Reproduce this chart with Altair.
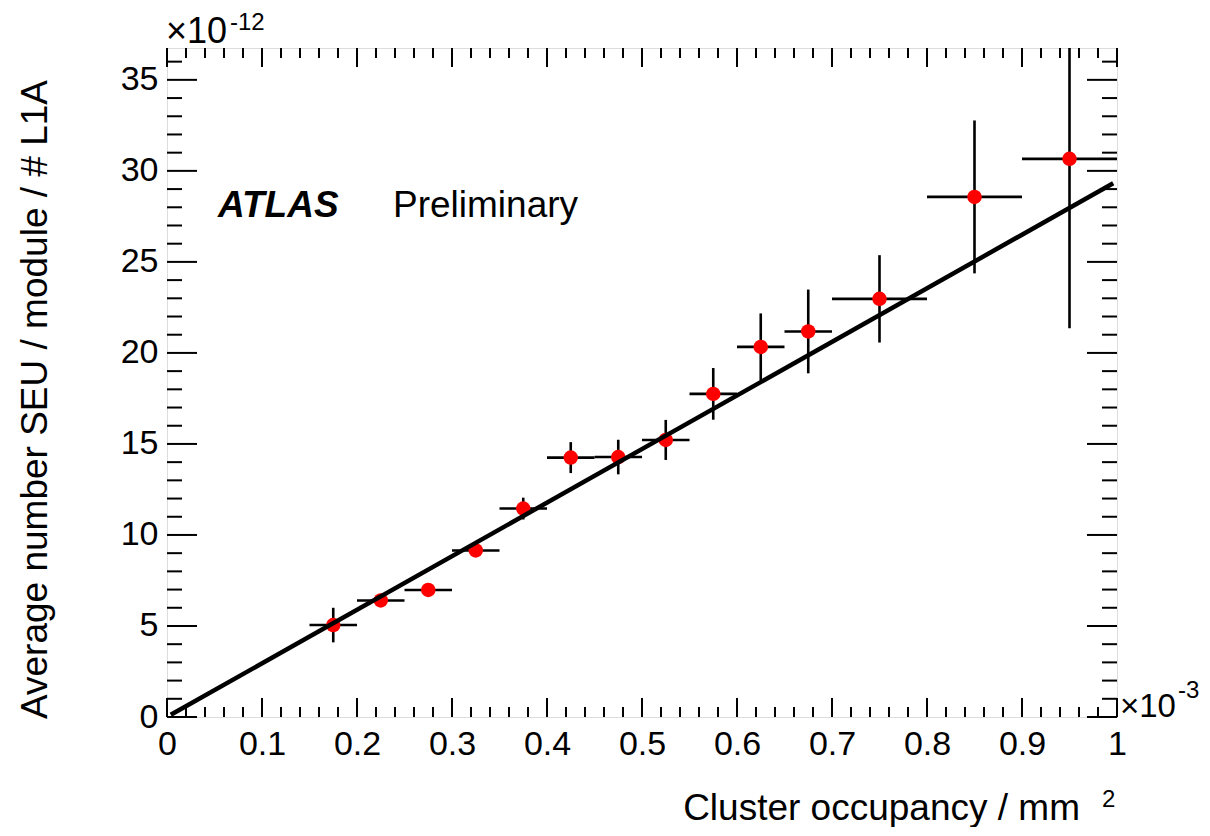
import altair as alt
import pandas as pd

# ---- data ----
x_center = [0.175, 0.225, 0.275, 0.325, 0.375, 0.425, 0.475, 0.525, 0.575, 0.625, 0.675, 0.75, 0.85, 0.95]
x_half = [0.025, 0.025, 0.025, 0.025, 0.025, 0.025, 0.025, 0.025, 0.025, 0.025, 0.025, 0.05, 0.05, 0.05]
y_val = [5.05, 6.40, 6.98, 9.15, 11.45, 14.25, 14.28, 15.22, 17.75, 20.33, 21.18, 22.97, 28.57, 30.66]
y_err = [0.95, 0.30, 0.25, 0.35, 0.60, 0.85, 0.95, 1.10, 1.42, 1.84, 2.30, 2.40, 4.20, 9.30]

fit_x = [0.004, 0.996]
fit_y = [0.12, 29.32]

x_major = [0, 0.1, 0.2, 0.3, 0.4, 0.5, 0.6, 0.7, 0.8, 0.9, 1.0]
x_minor = [0.02, 0.04, 0.06, 0.08, 0.12, 0.14, 0.16, 0.18, 0.22, 0.24, 0.26, 0.28,
           0.32, 0.34, 0.36, 0.38, 0.42, 0.44, 0.46, 0.48, 0.52, 0.54, 0.56, 0.58,
           0.62, 0.64, 0.66, 0.68, 0.72, 0.74, 0.76, 0.78, 0.82, 0.84, 0.86, 0.88,
           0.92, 0.94, 0.96, 0.98]
y_major = [0, 5, 10, 15, 20, 25, 30, 35]
y_minor = [1, 2, 3, 4, 6, 7, 8, 9, 11, 12, 13, 14, 16, 17, 18, 19, 21, 22, 23, 24,
           26, 27, 28, 29, 31, 32, 33, 34, 36]

X_MAX = 1.0
Y_MAX = 36.75

W, H = 950, 669
FONT = "Liberation Sans"

df = pd.DataFrame({
    "x": x_center,
    "y": y_val,
    "xlo": [c - h for c, h in zip(x_center, x_half)],
    "xhi": [c + h for c, h in zip(x_center, x_half)],
    "ylo": [v - e for v, e in zip(y_val, y_err)],
    "yhi": [v + e for v, e in zip(y_val, y_err)],
})
fit_df = pd.DataFrame({"x": fit_x, "y": fit_y})
xmaj_df = pd.DataFrame({"x": x_major})
xmin_df = pd.DataFrame({"x": x_minor})
ymaj_df = pd.DataFrame({"y": y_major})
ymin_df = pd.DataFrame({"y": y_minor})

xscale = alt.Scale(domain=[0, X_MAX], nice=False, zero=False)
yscale = alt.Scale(domain=[0, Y_MAX], nice=False, zero=False)

x_axis = alt.Axis(values=x_major, format="~g", ticks=False, domain=False, grid=False,
                  labelFont=FONT, labelFontSize=34, labelColor="black", labelPadding=10,
                  title=None, labelFlush=False, labelOverlap=False)
y_axis = alt.Axis(values=y_major, format="d", ticks=False, domain=False, grid=False,
                  labelFont=FONT, labelFontSize=34, labelColor="black", labelPadding=9,
                  title=None, labelOverlap=False)

base = alt.Chart(df)

hbars = base.mark_rule(color="black", strokeWidth=2.6, clip=True).encode(
    x=alt.X("xlo:Q", scale=xscale, axis=x_axis),
    x2="xhi:Q",
    y=alt.Y("y:Q", scale=yscale, axis=y_axis),
)
vbars = base.mark_rule(color="black", strokeWidth=2.6, clip=True).encode(
    x=alt.X("x:Q", scale=xscale),
    y=alt.Y("ylo:Q", scale=yscale),
    y2="yhi:Q",
)
points = base.mark_circle(color="#ff0000", size=210, opacity=1).encode(
    x=alt.X("x:Q", scale=xscale),
    y=alt.Y("y:Q", scale=yscale),
)
fit = alt.Chart(fit_df).mark_line(color="black", strokeWidth=4.5).encode(
    x=alt.X("x:Q", scale=xscale),
    y=alt.Y("y:Q", scale=yscale),
)

tick_col = "black"
tw = 2
xmaj_b = alt.Chart(xmaj_df).mark_rule(color=tick_col, strokeWidth=tw).encode(
    x=alt.X("x:Q", scale=xscale), y=alt.value(H), y2=alt.value(H - 19))
xmaj_t = alt.Chart(xmaj_df).mark_rule(color=tick_col, strokeWidth=tw).encode(
    x=alt.X("x:Q", scale=xscale), y=alt.value(0), y2=alt.value(19))
xmin_b = alt.Chart(xmin_df).mark_rule(color=tick_col, strokeWidth=tw).encode(
    x=alt.X("x:Q", scale=xscale), y=alt.value(H), y2=alt.value(H - 10))
xmin_t = alt.Chart(xmin_df).mark_rule(color=tick_col, strokeWidth=tw).encode(
    x=alt.X("x:Q", scale=xscale), y=alt.value(0), y2=alt.value(10))
ymaj_l = alt.Chart(ymaj_df).mark_rule(color=tick_col, strokeWidth=tw).encode(
    y=alt.Y("y:Q", scale=yscale), x=alt.value(0), x2=alt.value(30))
ymaj_r = alt.Chart(ymaj_df).mark_rule(color=tick_col, strokeWidth=tw).encode(
    y=alt.Y("y:Q", scale=yscale), x=alt.value(W), x2=alt.value(W - 30))
ymin_l = alt.Chart(ymin_df).mark_rule(color=tick_col, strokeWidth=tw).encode(
    y=alt.Y("y:Q", scale=yscale), x=alt.value(0), x2=alt.value(15))
ymin_r = alt.Chart(ymin_df).mark_rule(color=tick_col, strokeWidth=tw).encode(
    y=alt.Y("y:Q", scale=yscale), x=alt.value(W), x2=alt.value(W - 15))


def label(text, x, y, size, align="left", baseline="alphabetic", angle=0,
          weight="normal", style="normal"):
    return alt.Chart(pd.DataFrame({"t": [text]})).mark_text(
        font=FONT, fontSize=size, align=align, baseline=baseline, angle=angle,
        fontWeight=weight, fontStyle=style, color="black"
    ).encode(text="t:N", x=alt.value(x), y=alt.value(y))


texts = [
    label("ATLAS", 51, 169, 37, weight="bold", style="italic"),
    label("Preliminary", 226, 169, 37),
    label("Average number SEU / module / # L1A", -120, 32, 37, align="right", angle=270),
    label("Cluster occupancy / mm", 913, 772, 37, align="right"),
    label("2", 935, 759, 24),
    label("\u00d710", -1, -5, 36),
    label("-12", 63, -18, 24),
    label("\u00d710", 953, H, 33),
    label("-3", 1011, H - 19, 24),
]

chart = alt.layer(
    hbars, vbars, points, fit,
    xmaj_b, xmaj_t, xmin_b, xmin_t, ymaj_l, ymaj_r, ymin_l, ymin_r,
    *texts
).properties(
    width=W, height=H,
    padding={"left": 159, "top": 40, "right": 85, "bottom": 110},
    autosize=alt.AutoSizeParams(type="none"),
).configure_view(
    stroke="black", strokeWidth=2
).configure(background="white")

chart.save("out.html", embed_options={"renderer": "svg", "actions": False})
